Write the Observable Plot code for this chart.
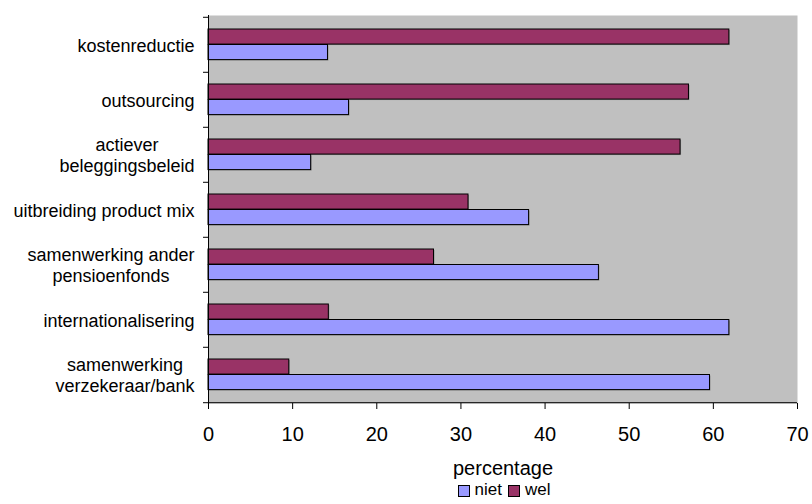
<!DOCTYPE html>
<html>
<head>
<meta charset="utf-8">
<script src="https://cdn.jsdelivr.net/npm/d3@7"></script>
<script src="https://cdn.jsdelivr.net/npm/@observablehq/plot@0.6"></script>
<style>
  body { margin: 0; background: white; font-family: "Liberation Sans", Arial, sans-serif; }
  #legend { display: flex; justify-content: center; align-items: center; padding-left: 196px; width: 616px; height: 20px; margin-top: -4px; font-size: 17px; line-height: 20px; color: black; }
  #legend .item { display: flex; align-items: center; margin: 0 3px; }
  #legend .sw { width: 10px; height: 10px; border: 1px solid black; margin-right: 5px; margin-top: 2px; }
</style>
</head>
<body>
<div id="chart"></div>
<div id="legend"></div>
<script>
// Categories (top to bottom) and the lines of their axis labels
const categories = [
  "kostenreductie",
  "outsourcing",
  "actiever beleggingsbeleid",
  "uitbreiding product mix",
  "samenwerking ander pensioenfonds",
  "internationalisering",
  "samenwerking verzekeraar/bank"
];
const labelLines = [
  ["kostenreductie"],
  ["outsourcing"],
  ["actiever", "beleggingsbeleid"],
  ["uitbreiding product mix"],
  ["samenwerking ander", "pensioenfonds"],
  ["internationalisering"],
  ["samenwerking", "verzekeraar/bank"]
];
// Percentages per series
const wel  = [61.9, 57.1, 56.1, 30.9, 26.8, 14.3, 9.6];
const niet = [14.2, 16.7, 12.2, 38.1, 46.4, 61.9, 59.6];
const xTicks = [0, 10, 20, 30, 40, 50, 60, 70];
const seriesNames = ["niet", "wel"];
const seriesColors = ["#9999FF", "#993366"];

const font = '"Liberation Sans", Arial, sans-serif';
const welRows = categories.map((c, i) => ({category: c, value: wel[i]}));
const nietRows = categories.map((c, i) => ({category: c, value: niet[i]}));

const W = 812, H = 484, mTop = 15, mBottom = 81;
const band = (H - mTop - mBottom) / categories.length;
const barH = 15.5, outer = 12;

// measure label widths so multi-line labels are centred as a right-aligned block
const ctx = document.createElement("canvas").getContext("2d");
ctx.font = `18px ${font}`;
const labelMarks = categories.map((c, i) => {
  const w = Math.max(...labelLines[i].map(s => ctx.measureText(s).width));
  return Plot.text([c], {
    y: d => d,
    text: () => labelLines[i].join("\n"),
    frameAnchor: "left",
    textAnchor: "middle",
    lineAnchor: "middle",
    lineHeight: 1.18,
    dx: -14 - w / 2,
    fontSize: 18,
    fill: "black"
  });
});

const welInset = {insetTop: outer, insetBottom: band - outer - barH};
const nietInset = {insetTop: outer + barH, insetBottom: band - outer - 2 * barH};
const barOpts = {x: "value", y: "category", stroke: "black", strokeWidth: 1};
const shadowOpts = {x: "value", y: "category", dx: 1, dy: 1, fill: "#555", fillOpacity: 0.45};

const chart = Plot.plot({
  width: W,
  height: H,
  marginLeft: 208,
  marginRight: 15,
  marginTop: mTop,
  marginBottom: mBottom,
  style: {fontFamily: font, background: "white", color: "black", overflow: "visible"},
  x: {domain: [0, 70]},
  y: {domain: categories, padding: 0, axis: null},
  marks: [
    Plot.frame({fill: "#C0C0C0", stroke: "none"}),
    // soft drop shadows behind bars
    Plot.barX(welRows, {...shadowOpts, ...welInset}),
    Plot.barX(nietRows, {...shadowOpts, ...nietInset}),
    Plot.barX(welRows, {...barOpts, fill: seriesColors[1], ...welInset}),
    Plot.barX(nietRows, {...barOpts, fill: seriesColors[0], ...nietInset}),
    // category boundary ticks on the left axis
    Plot.ruleY(categories, {y: d => d, dy: -band / 2, x1: 0, x2: 0, insetLeft: -5, stroke: "black"}),
    Plot.ruleY([categories[categories.length - 1]], {y: d => d, dy: band / 2, x1: 0, x2: 0, insetLeft: -5, stroke: "black"}),
    // axis lines
    Plot.ruleX([0], {stroke: "black"}),
    Plot.ruleY([categories[categories.length - 1]], {y: d => d, dy: band / 2, stroke: "black"}),
    Plot.axisX(xTicks, {tickSize: 6, tickPadding: 17, fontSize: 20, label: null, stroke: "black"}),
    ...labelMarks,
    Plot.text(["percentage"], {frameAnchor: "bottom", dy: 65.5, text: d => d, fontSize: 20, lineAnchor: "middle", fill: "black"})
  ]
});
document.getElementById("chart").appendChild(chart);

// legend
const legend = document.getElementById("legend");
seriesNames.forEach((name, i) => {
  const item = document.createElement("div");
  item.className = "item";
  const sw = document.createElement("div");
  sw.className = "sw";
  sw.style.background = seriesColors[i];
  const label = document.createElement("span");
  label.textContent = name;
  item.appendChild(sw);
  item.appendChild(label);
  legend.appendChild(item);
});
</script>
</body>
</html>
